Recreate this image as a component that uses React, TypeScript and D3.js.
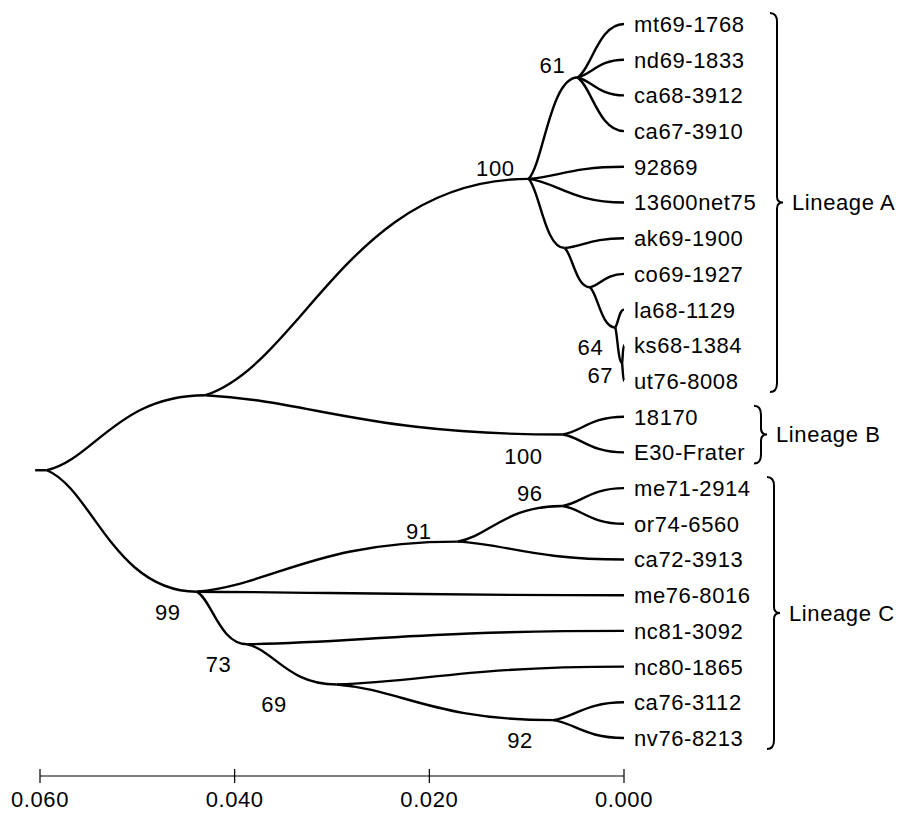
import React, { useEffect, useRef } from "react";
import * as d3 from "d3";

// leaf order, top to bottom
const leaves = [
  "mt69-1768", "nd69-1833", "ca68-3912", "ca67-3910", "92869", "13600net75",
  "ak69-1900", "co69-1927", "la68-1129", "ks68-1384", "ut76-8008",
  "18170", "E30-Frater",
  "me71-2914", "or74-6560", "ca72-3913", "me76-8016", "nc81-3092",
  "nc80-1865", "ca76-3112", "nv76-8213",
];

// internal nodes: id, height (distance from tips), bootstrap, children
const nodeIds = ["root", "AB", "A", "n61", "AK", "CO", "LA", "KS", "B", "C", "n91", "n96", "n73", "n69", "n92"];
const nodeHeights = [0.0593, 0.043, 0.0098, 0.0048, 0.0061, 0.0035, 0.0009, 0.0002, 0.0063, 0.0439, 0.0171, 0.0063, 0.0387, 0.0295, 0.0073];
const nodeSupport = [null, null, 100, 61, null, null, 64, 67, 100, 99, 91, 96, 73, 69, 92];
const nodeChildren = [
  ["AB", "C"],
  ["A", "B"],
  ["n61", "92869", "13600net75", "AK"],
  ["mt69-1768", "nd69-1833", "ca68-3912", "ca67-3910"],
  ["ak69-1900", "CO"],
  ["co69-1927", "LA"],
  ["la68-1129", "KS"],
  ["ks68-1384", "ut76-8008"],
  ["18170", "E30-Frater"],
  ["n91", "me76-8016", "n73"],
  ["n96", "ca72-3913"],
  ["me71-2914", "or74-6560"],
  ["nc81-3092", "n69"],
  ["nc80-1865", "n92"],
  ["ca76-3112", "nv76-8213"],
];

const lineageNames = ["Lineage A", "Lineage B", "Lineage C"];
const lineageFirst = ["mt69-1768", "18170", "me71-2914"];
const lineageLast = ["ut76-8008", "E30-Frater", "nv76-8213"];

const axisTicks = [0.06, 0.04, 0.02, 0];

// layout / style
const ROOT_ROW = 12.5; // root drawn at this leaf row
const ROOT_STUB = 0.0012;
const braceX = [770, 754, 767];
const supportOffset: Record<string, [number, number]> = {
  A: [-14, -3], n61: [-12, -5], LA: [-12, 28], KS: [-9, 20], B: [-20, 29],
  n96: [-20, -5], n91: [-26, -3], C: [-16, 28], n73: [-16, 28], n69: [-50, 28], n92: [-20, 28],
};
const FONT = "'Liberation Sans', Arial, Helvetica, sans-serif";

type Pos = { x: number; y: number; n: number };

const drawChart = (el: SVGSVGElement) => {
  const svg = d3.select(el);
  svg.selectAll("*").remove();

  const x = d3.scaleLinear().domain([0.06, 0]).range([40, 624]);
  const y = d3.scalePoint<string>().domain(leaves).range([24, 738]);

  const pos: Record<string, Pos> = {};
  const layout = (id: string): Pos => {
    const i = nodeIds.indexOf(id);
    if (i < 0) {
      pos[id] = { x: x(0), y: y(id)!, n: 1 };
      return pos[id];
    }
    const kids = nodeChildren[i].map(layout);
    // node sits nearer the smaller clade
    const w = d3.sum(kids, (k) => 1 / k.n);
    let yy = d3.sum(kids, (k) => k.y / k.n) / w;
    if (id === "root") yy = y(leaves[0])! + ROOT_ROW * y.step();
    pos[id] = { x: x(nodeHeights[i]), y: yy, n: d3.sum(kids, (k) => k.n) };
    return pos[id];
  };
  layout("root");

  const link = (x0: number, y0: number, x1: number, y1: number) => {
    const dx = x1 - x0, dy = y1 - y0;
    return `M${x0},${y0}C${x0 + 0.3 * dx},${y0 + 0.15 * dy} ${x0 + 0.45 * dx},${y1} ${x1},${y1}`;
  };

  const edges: [string, string][] = [];
  nodeIds.forEach((id, i) => nodeChildren[i].forEach((c) => edges.push([id, c])));

  const g = svg.append("g");

  g.selectAll("path.edge")
    .data(edges)
    .enter()
    .append("path")
    .attr("class", "edge")
    .attr("d", (e) => link(pos[e[0]].x, pos[e[0]].y, pos[e[1]].x, pos[e[1]].y))
    .attr("fill", "none")
    .attr("stroke", "#000")
    .attr("stroke-width", 2.4);

  // root stub
  g.append("line")
    .attr("x1", x(nodeHeights[0] + ROOT_STUB))
    .attr("x2", pos.root.x)
    .attr("y1", pos.root.y)
    .attr("y2", pos.root.y)
    .attr("stroke", "#000")
    .attr("stroke-width", 2.4);

  // leaf labels
  g.selectAll("text.leaf")
    .data(leaves)
    .enter()
    .append("text")
    .attr("class", "leaf")
    .attr("x", x(0) + 10)
    .attr("y", (d) => y(d)!)
    .attr("dy", "0.36em")
    .attr("font-family", FONT)
    .attr("font-size", 22)
    .attr("letter-spacing", 0.6)
    .text((d) => d);

  // bootstrap values
  const supported = nodeIds.filter((id, i) => nodeSupport[i] != null);
  g.selectAll("text.support")
    .data(supported)
    .enter()
    .append("text")
    .attr("class", "support")
    .attr("x", (id) => pos[id].x + supportOffset[id][0])
    .attr("y", (id) => pos[id].y + supportOffset[id][1])
    .attr("text-anchor", "end")
    .attr("font-family", FONT)
    .attr("font-size", 22)
    .attr("letter-spacing", 0.6)
    .text((id) => String(nodeSupport[nodeIds.indexOf(id)]));

  // lineage braces
  lineageNames.forEach((name, i) => {
    const x0 = braceX[i];
    const y0 = y(lineageFirst[i])! - 11;
    const y1 = y(lineageLast[i])! + 11;
    const ym = (y0 + y1) / 2;
    const xv = x0 + 7, xt = x0 + 13, r = 9;
    const d =
      `M${x0},${y0}Q${xv},${y0} ${xv},${y0 + r}` +
      `L${xv},${ym - 6}Q${xv},${ym} ${xt},${ym}` +
      `Q${xv},${ym} ${xv},${ym + 6}` +
      `L${xv},${y1 - r}Q${xv},${y1} ${x0},${y1}`;
    g.append("path")
      .attr("d", d)
      .attr("fill", "none")
      .attr("stroke", "#000")
      .attr("stroke-width", 2);
    g.append("text")
      .attr("x", x0 + 22)
      .attr("y", ym)
      .attr("dy", "0.36em")
      .attr("font-family", FONT)
      .attr("font-size", 22)
      .attr("letter-spacing", 0.6)
      .text(name);
  });

  // distance axis
  const ay = 776;
  const axis = svg.append("g");
  axis.append("line")
    .attr("x1", x(0.06))
    .attr("x2", x(0))
    .attr("y1", ay)
    .attr("y2", ay)
    .attr("stroke", "#000")
    .attr("stroke-width", 1.2);
  axis.selectAll("line.tick")
    .data(axisTicks)
    .enter()
    .append("line")
    .attr("class", "tick")
    .attr("x1", (d) => x(d))
    .attr("x2", (d) => x(d))
    .attr("y1", ay - 7)
    .attr("y2", ay + 7)
    .attr("stroke", "#000")
    .attr("stroke-width", 1.2);
  axis.selectAll("text")
    .data(axisTicks)
    .enter()
    .append("text")
    .attr("x", (d) => x(d))
    .attr("y", ay + 31)
    .attr("text-anchor", "middle")
    .attr("font-family", FONT)
    .attr("font-size", 22)
    .attr("letter-spacing", 0.6)
    .text((d) => d3.format(".3f")(d));
};

const App = () => {
  const ref = useRef<SVGSVGElement>(null);
  useEffect(() => {
    if (ref.current) drawChart(ref.current);
  }, []);
  return (
    <svg
      ref={ref}
      width={901}
      height={814}
      style={{ position: "absolute", left: 0, top: 0, background: "#fff" }}
    />
  );
};

export default App;
